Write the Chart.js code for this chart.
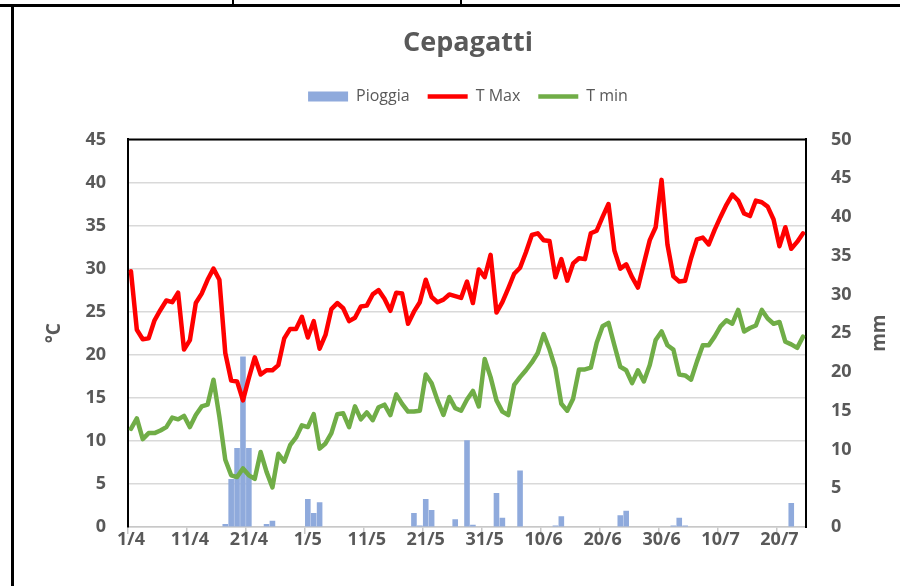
<!DOCTYPE html>
<html>
<head>
<meta charset="utf-8">
<title>Cepagatti</title>
<script src="https://cdn.jsdelivr.net/npm/chart.js@4.4.1/dist/chart.umd.min.js"></script>
<style>
  html, body { margin: 0; padding: 0; background: #fff; }
  #wrap { position: relative; width: 900px; height: 586px; overflow: hidden; }
  #meteo { position: absolute; left: 0; top: 0; }
  .ln { position: absolute; background: #000; }
</style>
</head>
<body>
<div id="wrap">
  <canvas id="meteo" width="900" height="586"></canvas>
  <!-- table borders around the picture -->
  <div class="ln" style="left:0;top:4px;width:900px;height:3px"></div>
  <div class="ln" style="left:232px;top:0;width:2px;height:5px"></div>
  <div class="ln" style="left:460px;top:0;width:2px;height:5px"></div>
  <div class="ln" style="left:11px;top:5px;width:3px;height:581px"></div>
</div>
<script>
// daily data, 1/4 -> 24/7 (10 values per row)
const tMax = [
  29.7, 22.9, 21.8, 21.9, 24.0, 25.2, 26.3, 26.1, 27.2, 20.6,
  21.7, 26.0, 27.1, 28.7, 30.0, 28.7, 20.2, 17.0, 16.9, 14.7,
  17.3, 19.7, 17.7, 18.2, 18.2, 18.8, 21.9, 23.0, 23.0, 24.4,
  22.0, 23.9, 20.7, 22.3, 25.3, 26.0, 25.4, 23.9, 24.3, 25.6,
  25.7, 27.0, 27.5, 26.5, 25.1, 27.2, 27.1, 23.6, 25.0, 26.1,
  28.7, 26.7, 26.1, 26.4, 27.0, 26.8, 26.6, 28.5, 26.0, 29.9,
  29.0, 31.6, 24.9, 26.1, 27.7, 29.4, 30.1, 31.9, 33.9, 34.1,
  33.3, 33.2, 29.0, 31.1, 28.6, 30.6, 31.2, 31.1, 34.1, 34.4,
  36.0, 37.5, 32.1, 30.0, 30.5, 29.0, 27.8, 30.6, 33.3, 34.8,
  40.3, 32.8, 29.1, 28.5, 28.6, 31.2, 33.4, 33.6, 32.8, 34.5,
  36.0, 37.4, 38.6, 37.9, 36.4, 36.1, 37.9, 37.7, 37.2, 35.7,
  32.6, 34.8, 32.3, 33.1, 34.1,
]
const tMin = [
  11.4, 12.6, 10.2, 10.9, 10.9, 11.2, 11.6, 12.7, 12.5, 12.9,
  11.6, 13.0, 14.0, 14.2, 17.1, 12.8, 7.8, 6.0, 5.8, 6.8,
  6.0, 5.6, 8.7, 6.4, 4.6, 8.5, 7.6, 9.5, 10.4, 11.8,
  11.6, 13.1, 9.1, 9.7, 10.9, 13.1, 13.2, 11.6, 14.0, 12.5,
  13.3, 12.4, 13.9, 14.2, 13.0, 15.4, 14.3, 13.4, 13.4, 13.5,
  17.7, 16.7, 14.7, 13.0, 15.1, 13.8, 13.5, 14.8, 15.8, 14.0,
  19.5, 17.4, 14.7, 13.4, 13.0, 16.5, 17.4, 18.2, 19.1, 20.2,
  22.4, 20.6, 18.4, 14.3, 13.5, 14.9, 18.3, 18.3, 18.5, 21.4,
  23.3, 23.7, 21.1, 18.6, 18.2, 16.7, 18.2, 16.9, 18.8, 21.7,
  22.7, 21.1, 20.6, 17.7, 17.6, 17.1, 19.2, 21.1, 21.1, 22.1,
  23.3, 24.0, 23.6, 25.2, 22.7, 23.1, 23.4, 25.2, 24.2, 23.6,
  23.8, 21.5, 21.2, 20.8, 22.1,
]
const pioggia = [
  0, 0, 0, 0, 0, 0, 0, 0, 0, 0,
  0, 0, 0, 0, 0, 0, 0.4, 6.2, 10.2, 22.0,
  10.2, 0, 0, 0.4, 0.8, 0, 0, 0, 0, 0,
  3.6, 1.8, 3.2, 0, 0, 0, 0, 0, 0, 0,
  0, 0, 0, 0, 0, 0, 0, 0, 1.8, 0.2,
  3.6, 2.2, 0, 0, 0, 1.0, 0, 11.2, 0.3, 0,
  0, 0, 4.4, 1.2, 0, 0, 7.3, 0, 0, 0,
  0, 0, 0.2, 1.4, 0, 0, 0, 0, 0, 0,
  0, 0, 0, 1.5, 2.1, 0, 0, 0, 0, 0,
  0, 0, 0.2, 1.2, 0.2, 0, 0, 0, 0, 0,
  0, 0, 0, 0, 0, 0, 0, 0, 0, 0,
  0, 0, 3.1, 0, 0,
]

// categories: one per day starting 1 April
const days = []
for (let i = 0; i < tMax.length; i++) {
  const d = new Date(2021, 3, 1 + i)
  days.push(d.getDate() + "/" + (d.getMonth() + 1))
}

const grey = "#595959"
Chart.defaults.font.family = "'Open Sans', 'Liberation Sans', sans-serif"
Chart.defaults.color = grey

// extra space under the legend
const legendGap = {
  id: "legendGap",
  beforeInit(chart) {
    const fit = chart.legend.fit
    chart.legend.fit = function () {
      fit.call(this)
      this.height += 25
    }
  },
}

// black top edge of the plot and the "mm" title
const frame = {
  id: "frame",
  afterDraw(chart) {
    const { ctx, chartArea: a } = chart
    ctx.save()
    ctx.strokeStyle = "#000"
    ctx.lineWidth = 2
    ctx.beginPath()
    ctx.moveTo(a.left - 1, a.top)
    ctx.lineTo(a.right + 1, a.top)
    ctx.stroke()
    ctx.translate(880, (a.top + a.bottom) / 2)
    ctx.rotate(-Math.PI / 2)
    ctx.font = "bold 19px 'Open Sans'"
    ctx.fillStyle = grey
    ctx.textAlign = "center"
    ctx.textBaseline = "middle"
    ctx.fillText("mm", 0, 0)
    ctx.restore()
  },
}

const tickFont = { size: 18, weight: "bold" }

new Chart(document.getElementById("meteo"), {
  type: "bar",
  data: {
    labels: days,
    datasets: [
      {
        label: "Pioggia",
        data: pioggia,
        yAxisID: "y1",
        backgroundColor: "#8FAADC",
        barPercentage: 0.95,
        categoryPercentage: 1,
        order: 3,
      },
      {
        type: "line",
        label: "T Max",
        data: tMax,
        yAxisID: "y",
        borderColor: "#FF0000",
        backgroundColor: "#FF0000",
        borderWidth: 4.5,
        pointRadius: 0,
        tension: 0,
        borderJoinStyle: "round",
        borderCapStyle: "round",
        order: 1,
      },
      {
        type: "line",
        label: "T min",
        data: tMin,
        yAxisID: "y",
        borderColor: "#70AD47",
        backgroundColor: "#70AD47",
        borderWidth: 4.5,
        pointRadius: 0,
        tension: 0,
        borderJoinStyle: "round",
        borderCapStyle: "round",
        order: 2,
      },
    ],
  },
  options: {
    responsive: false,
    animation: false,
    devicePixelRatio: 1,
    events: [],
    layout: { padding: { left: 36, right: 0, top: 0, bottom: 0 } },
    plugins: {
      tooltip: { enabled: false },
      title: {
        display: true,
        text: "Cepagatti",
        color: grey,
        font: { size: 27, weight: "bold" },
        padding: { top: 27, bottom: 11 },
      },
      legend: {
        position: "top",
        labels: {
          usePointStyle: true,
          pointStyleWidth: 40,
          boxHeight: 10,
          padding: 18,
          color: grey,
          font: { size: 16 },
          sort: (a, b) => a.datasetIndex - b.datasetIndex,
          generateLabels: (chart) =>
            Chart.defaults.plugins.legend.labels.generateLabels(chart).map((it) => {
              it.pointStyle = it.datasetIndex === 0 ? "rect" : "line"
              return it
            }),
        },
      },
    },
    scales: {
      x: {
        type: "category",
        offset: true,
        afterFit: (s) => { s.height = 59 },
        grid: {
          offset: true,
          drawOnChartArea: false,
          drawTicks: true,
          tickLength: 7,
          lineWidth: 1.5,
          color: (c) => (c.index % 10 === 0 ? "#c8c8c8" : "rgba(0,0,0,0)"),
        },
        border: { color: "#c8c8c8", width: 1.5 },
        ticks: {
          autoSkip: false,
          maxRotation: 0,
          padding: -5,
          font: tickFont,
          color: grey,
          callback: (v, i) => (i % 10 === 0 ? days[i] : ""),
        },
      },
      y: {
        position: "left",
        min: 0,
        max: 45,
        afterFit: (s) => { s.width = 92 },
        ticks: { stepSize: 5, padding: 22, font: tickFont, color: grey },
        grid: { color: "#d9d9d9", lineWidth: 1.5, drawTicks: false },
        border: { color: "#000", width: 2 },
        title: {
          display: true,
          text: "°C",
          color: grey,
          font: { size: 19, weight: "bold" },
          padding: { top: 7, bottom: 0 },
        },
      },
      y1: {
        position: "right",
        min: 0,
        max: 50,
        afterFit: (s) => { s.width = 94 },
        ticks: { stepSize: 5, padding: 25, font: tickFont, color: grey },
        grid: { drawOnChartArea: false, drawTicks: false },
        border: { color: "#000", width: 2 },
      },
    },
  },
  plugins: [legendGap, frame],
})
</script>
</body>
</html>
